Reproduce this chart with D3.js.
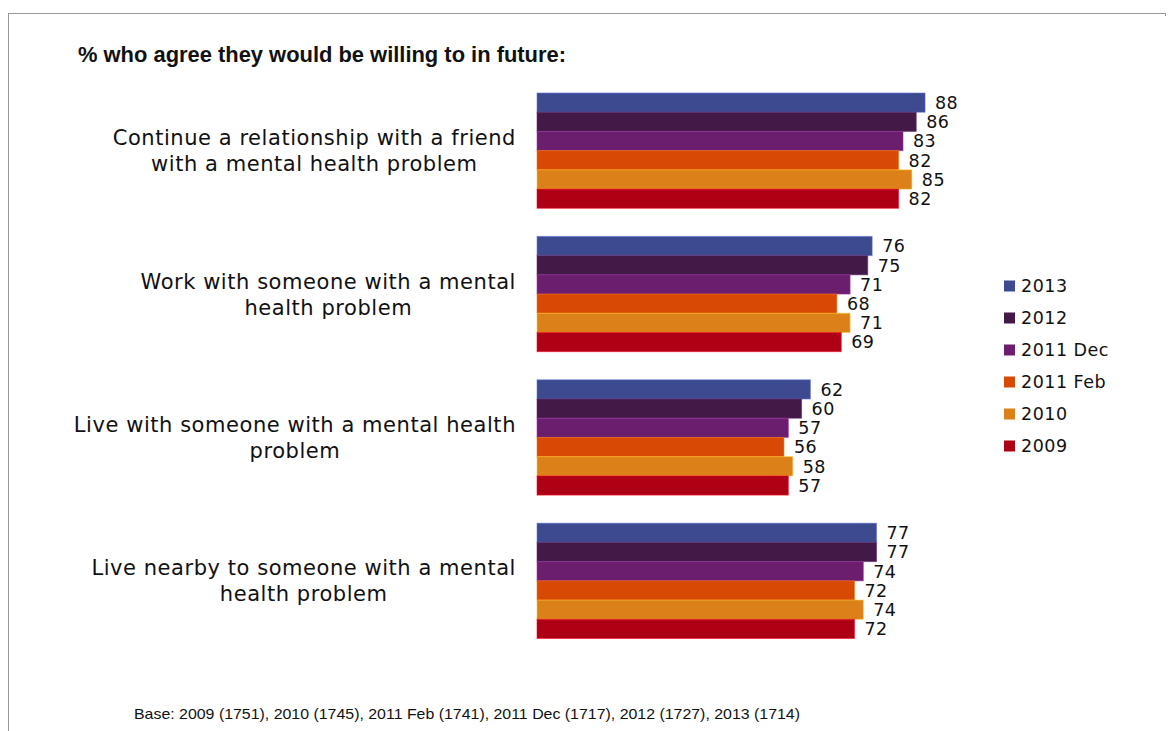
<!DOCTYPE html>
<html>
<head>
<meta charset="utf-8">
<script src="https://cdn.jsdelivr.net/npm/d3@7"></script>
<style>
  html, body { margin: 0; padding: 0; background: #fff; }
  svg { display: block; }
</style>
</head>
<body>
<svg id="chart" width="1168" height="731"></svg>
<script>
// Survey statements (two lines each)
const categories = [
  ["Continue a relationship with a friend", "with a mental health problem"],
  ["Work with someone with a mental", "health problem"],
  ["Live with someone with a mental health", "problem"],
  ["Live nearby to someone with a mental", "health problem"]
];
const series = ["2013", "2012", "2011 Dec", "2011 Feb", "2010", "2009"];
const colors = ["#3d4a8f", "#431a47", "#6b1e6e", "#d64a03", "#dc801a", "#ae0015"];

// % agreeing, per statement, in series order
const values2013    = [88, 76, 62, 77];
const values2012    = [86, 75, 60, 77];
const values2011Dec = [83, 71, 57, 74];
const values2011Feb = [82, 68, 56, 72];
const values2010    = [85, 71, 58, 74];
const values2009    = [82, 69, 57, 72];
const seriesValues = [values2013, values2012, values2011Dec, values2011Feb, values2010, values2009];

const title = "% who agree they would be willing to in future:";
const footnote = "Base: 2009 (1751), 2010 (1745), 2011 Feb (1741), 2011 Dec (1717), 2012 (1727), 2013 (1714)";

const svg = d3.select("#chart");

// Frame lines
svg.append("line").attr("x1", 8.5).attr("x2", 1166).attr("y1", 13.5).attr("y2", 13.5)
  .attr("stroke", "#999").attr("stroke-width", 1);
svg.append("line").attr("x1", 8.5).attr("x2", 8.5).attr("y1", 13).attr("y2", 731)
  .attr("stroke", "#999").attr("stroke-width", 1);
svg.append("line").attr("x1", 1165.5).attr("x2", 1165.5).attr("y1", 13).attr("y2", 16)
  .attr("stroke", "#999").attr("stroke-width", 1);

// Title
svg.append("text").attr("x", 78).attr("y", 62)
  .attr("font-family", "'Liberation Sans', Arial, sans-serif")
  .attr("font-weight", "bold").attr("font-size", 22).attr("fill", "#111")
  .attr("textLength", 488).attr("lengthAdjust", "spacingAndGlyphs")
  .text(title);

// Scales
const x = d3.scaleLinear().domain([0, 100]).range([537, 978]);
const yGroup = d3.scaleBand().domain(d3.range(categories.length))
  .range([93, 638.5]).paddingInner(0.196).paddingOuter(0);
const ySeries = d3.scaleBand().domain(series).range([0, yGroup.bandwidth()]).padding(0);
const color = d3.scaleOrdinal().domain(series).range(colors);

const rows = [];
categories.forEach((c, i) => {
  series.forEach((s, j) => rows.push({ cat: i, series: s, value: seriesValues[j][i] }));
});

// Bars
svg.append("g").selectAll("rect").data(rows).join("rect")
  .attr("x", x(0))
  .attr("y", d => yGroup(d.cat) + ySeries(d.series))
  .attr("width", d => x(d.value) - x(0))
  .attr("height", ySeries.bandwidth())
  .attr("fill", d => color(d.series))
  .attr("stroke", d => d3.color(color(d.series)).brighter(1.2).copy({opacity: 0.55}))
  .attr("stroke-width", 1);

// Value labels
svg.append("g").selectAll("text").data(rows).join("text")
  .attr("x", d => x(d.value) + 10)
  .attr("y", d => yGroup(d.cat) + ySeries(d.series) + ySeries.bandwidth() / 2)
  .attr("dy", "0.36em")
  .attr("font-family", "'DejaVu Sans', Verdana, sans-serif")
  .attr("font-size", 17.5).attr("letter-spacing", 0.4).attr("fill", "#111")
  .text(d => d.value);

// Category labels: lines centred within a right-aligned block
const labelRight = 516;
const catG = svg.append("g");
categories.forEach((lines, i) => {
  const cy = yGroup(i) + yGroup.bandwidth() / 2;
  const t = catG.append("text")
    .attr("font-family", "'DejaVu Sans', Verdana, sans-serif")
    .attr("font-size", 21).attr("letter-spacing", 0.55).attr("fill", "#111")
    .attr("text-anchor", "middle");
  const spans = lines.map((ln, k) => t.append("tspan")
    .attr("y", cy + (k - (lines.length - 1) / 2) * 26)
    .attr("dy", "0.36em").text(ln));
  const maxW = d3.max(spans, s => s.node().getComputedTextLength());
  spans.forEach(s => s.attr("x", labelRight - maxW / 2));
});

// Legend
const legend = svg.append("g");
series.forEach((s, j) => {
  const ly = 286 + j * 32;
  legend.append("rect").attr("x", 1004).attr("y", ly - 5.5).attr("width", 11).attr("height", 11)
    .attr("fill", color(s));
  legend.append("text").attr("x", 1021).attr("y", ly).attr("dy", "0.36em")
    .attr("font-family", "'DejaVu Sans', Verdana, sans-serif")
    .attr("font-size", 17.5).attr("letter-spacing", 0.5).attr("fill", "#111").text(s);
});

// Footnote
svg.append("text").attr("x", 134).attr("y", 719)
  .attr("font-family", "'Liberation Sans', Arial, sans-serif")
  .attr("font-size", 15).attr("fill", "#111")
  .attr("textLength", 666).attr("lengthAdjust", "spacingAndGlyphs")
  .text(footnote);
</script>
</body>
</html>
